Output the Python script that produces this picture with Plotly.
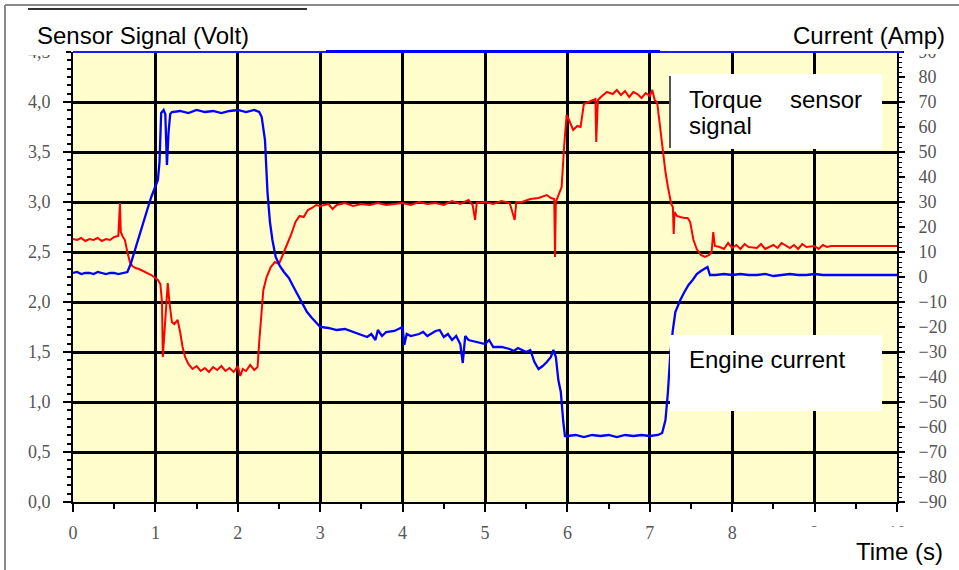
import plotly.graph_objects as go

# ---------------- data ----------------
torque_t = [0.00, 0.05, 0.10, 0.15, 0.20, 0.25, 0.30, 0.35, 0.40, 0.45, 0.50, 0.55, 0.57, 0.58, 0.60,
            0.63, 0.66, 0.69, 0.72, 0.76, 0.80, 0.85, 0.90, 0.95, 1.00, 1.03, 1.06, 1.08, 1.09, 1.11,
            1.13, 1.15, 1.17, 1.20, 1.23, 1.27, 1.30, 1.33, 1.36, 1.40, 1.45, 1.50, 1.55, 1.60, 1.65,
            1.70, 1.75, 1.80, 1.85, 1.90, 1.95, 2.00, 2.03, 2.06, 2.10, 2.15, 2.20, 2.24, 2.26, 2.28,
            2.31, 2.35, 2.40, 2.45, 2.50, 2.55, 2.60, 2.65, 2.70, 2.75, 2.80, 2.85, 2.90, 2.95, 3.00,
            3.10, 3.15, 3.20, 3.30, 3.40, 3.50, 3.60, 3.70, 3.80, 3.90, 4.00, 4.10, 4.20, 4.30, 4.40,
            4.50, 4.60, 4.70, 4.80, 4.85, 4.88, 4.90, 5.00, 5.10, 5.20, 5.30, 5.36, 5.38, 5.45, 5.55,
            5.65, 5.75, 5.80, 5.84, 5.85, 5.86, 5.90, 5.93, 5.96, 5.99, 6.02, 6.07, 6.12, 6.16, 6.20,
            6.25, 6.30, 6.34, 6.35, 6.37, 6.42, 6.48, 6.55, 6.60, 6.65, 6.70, 6.75, 6.80, 6.85, 6.90,
            6.95, 7.00, 7.03, 7.06, 7.09, 7.12, 7.16, 7.19, 7.22, 7.26, 7.28, 7.29, 7.30, 7.33, 7.37,
            7.42, 7.46, 7.49, 7.53, 7.57, 7.62, 7.67, 7.72, 7.75, 7.77, 7.79, 7.85, 7.90, 7.95, 8.00,
            8.05, 8.10, 8.15, 8.20, 8.30, 8.35, 8.40, 8.50, 8.55, 8.60, 8.70, 8.75, 8.80, 8.85, 8.90,
            9.00, 9.05, 9.10, 9.15, 9.20, 10.00]
torque_volt = [2.63, 2.62, 2.64, 2.61, 2.63, 2.62, 2.64, 2.61, 2.63, 2.62, 2.65, 2.66, 2.99, 2.70, 2.66,
               2.62, 2.50, 2.40, 2.36, 2.34, 2.33, 2.31, 2.29, 2.27, 2.24, 2.22, 2.18, 2.00, 1.45, 1.70,
               2.05, 2.19, 2.00, 1.80, 1.78, 1.82, 1.70, 1.55, 1.45, 1.38, 1.33, 1.36, 1.31, 1.34, 1.30,
               1.35, 1.32, 1.36, 1.31, 1.34, 1.30, 1.36, 1.26, 1.33, 1.31, 1.37, 1.32, 1.35, 1.60, 1.85,
               2.12, 2.25, 2.35, 2.40, 2.38, 2.48, 2.58, 2.68, 2.80, 2.86, 2.85, 2.92, 2.94, 2.97, 2.96,
               2.98, 2.93, 2.97, 2.99, 2.96, 2.98, 2.97, 2.99, 2.97, 2.98, 2.99, 2.97, 3.00, 2.98, 2.99,
               2.97, 3.01, 2.98, 3.02, 2.97, 2.82, 2.99, 3.00, 2.98, 3.01, 2.99, 2.82, 3.00, 3.00, 3.03,
               3.04, 3.07, 3.04, 3.03, 2.45, 3.00, 3.08, 3.15, 3.55, 3.87, 3.82, 3.72, 3.76, 3.75, 3.98,
               4.00, 4.02, 4.03, 3.60, 4.02, 4.06, 4.10, 4.08, 4.12, 4.07, 4.11, 4.05, 4.10, 4.08, 4.04,
               4.09, 4.06, 4.12, 4.02, 3.99, 3.78, 3.52, 3.30, 3.15, 2.98, 2.95, 2.68, 2.90, 2.86, 2.85,
               2.84, 2.84, 2.80, 2.62, 2.53, 2.47, 2.45, 2.47, 2.50, 2.70, 2.56, 2.55, 2.53, 2.59, 2.54,
               2.57, 2.53, 2.58, 2.55, 2.54, 2.58, 2.53, 2.57, 2.54, 2.59, 2.54, 2.57, 2.53, 2.58, 2.55,
               2.56, 2.53, 2.57, 2.55, 2.56, 2.56]

current_t = [0.00, 0.05, 0.10, 0.15, 0.20, 0.25, 0.30, 0.35, 0.40, 0.45, 0.50, 0.55, 0.60, 0.66, 0.70,
             0.75, 0.80, 0.85, 0.90, 0.95, 1.00, 1.03, 1.05, 1.07, 1.10, 1.12, 1.14, 1.16, 1.18, 1.20,
             1.30, 1.40, 1.50, 1.60, 1.70, 1.80, 1.90, 2.00, 2.10, 2.20, 2.26, 2.29, 2.33, 2.36, 2.39,
             2.42, 2.46, 2.51, 2.56, 2.62, 2.67, 2.72, 2.78, 2.84, 2.90, 2.96, 3.00, 3.10, 3.20, 3.30,
             3.40, 3.50, 3.57, 3.62, 3.67, 3.70, 3.75, 3.80, 3.90, 4.00, 4.02, 4.05, 4.10, 4.20, 4.25,
             4.30, 4.40, 4.45, 4.50, 4.55, 4.60, 4.65, 4.70, 4.73, 4.76, 4.80, 4.90, 5.00, 5.05, 5.10,
             5.20, 5.30, 5.35, 5.40, 5.45, 5.50, 5.55, 5.60, 5.65, 5.70, 5.75, 5.80, 5.83, 5.86, 5.89,
             5.92, 5.95, 5.97, 6.00, 6.10, 6.20, 6.30, 6.40, 6.50, 6.60, 6.70, 6.80, 6.90, 7.00, 7.10,
             7.15, 7.19, 7.22, 7.25, 7.28, 7.31, 7.34, 7.37, 7.42, 7.47, 7.52, 7.57, 7.62, 7.67, 7.70,
             7.73, 7.80, 7.90, 8.00, 8.10, 8.20, 8.30, 8.40, 8.50, 8.60, 8.70, 8.80, 8.90, 9.00, 9.10,
             9.20, 10.00]
current_amp = [1.6, 2.0, 1.2, 1.6, 1.6, 1.2, 2.0, 1.6, 1.2, 1.6, 1.6, 1.2, 1.6, 2.0, 5.2,
               10.8, 15.6, 21.2, 26.8, 32.0, 36.0, 38.8, 46.0, 65.6, 66.8, 65.2, 44.8, 58.0, 65.2, 66.0,
               66.4, 65.6, 66.8, 66.0, 66.4, 65.6, 66.4, 66.8, 66.0, 66.8, 66.0, 64.0, 54.8, 34.0, 22.0,
               14.8, 8.0, 4.4, 2.0, -0.4, -3.6, -6.8, -10.8, -14.0, -16.4, -18.8, -20.0, -20.4, -21.2, -20.8,
               -22.0, -23.2, -24.0, -22.8, -25.2, -21.2, -23.6, -22.0, -21.6, -20.0, -27.2, -22.8, -23.6, -22.8, -22.0,
               -23.6, -21.6, -21.2, -24.0, -22.8, -25.2, -23.6, -26.8, -34.4, -23.6, -25.2, -26.0, -26.8, -25.2, -28.0,
               -28.0, -28.8, -29.6, -28.4, -29.2, -30.0, -29.2, -34.0, -36.8, -35.6, -34.0, -32.0, -29.2, -32.0, -41.2,
               -46.0, -58.0, -63.6, -63.6, -63.2, -64.0, -63.2, -63.6, -63.2, -64.0, -63.2, -63.6, -63.2, -63.6, -63.2,
               -62.4, -57.2, -46.0, -30.4, -21.2, -14.0, -11.6, -9.2, -6.0, -3.2, -1.2, 1.2, 2.4, 3.2, 4.0,
               0.8, 0.8, 1.2, 0.8, 1.2, 0.8, 0.8, 1.2, 0.4, 0.8, 1.2, 0.8, 0.8, 1.2, 0.8,
               0.8, 0.8]

x_ticks = list(range(0, 11))
left_ticks = [0.0, 0.5, 1.0, 1.5, 2.0, 2.5, 3.0, 3.5, 4.0, 4.5]
right_ticks = list(range(-90, 91, 10))

# ---------------- geometry helpers (pixel -> paper) ----------------
W, H = 959, 570
PL, PR, PT, PB = 73, 897, 52, 502


def px(x):
    return (x - PL) / (PR - PL)


def py(y):
    return (PB - y) / (PB - PT)


fig = go.Figure()
fig.add_trace(go.Scatter(x=current_t, y=current_amp, yaxis="y2", mode="lines",
                         line=dict(color="#0000FF", width=2.3), name="Engine current"))
fig.add_trace(go.Scatter(x=torque_t, y=torque_volt, mode="lines",
                         line=dict(color="#FF0000", width=2), name="Torque sensor signal"))

tickfont = dict(family="Liberation Serif, Times New Roman, serif", size=18, color="#555555")

fig.update_layout(
    width=W, height=H,
    margin=dict(l=PL, r=W - PR, t=PT, b=H - PB, pad=0),
    paper_bgcolor="white",
    plot_bgcolor="#FFFDCC",
    showlegend=False,
    separators=", ",
    xaxis=dict(range=[0, 10], tickvals=x_ticks, showgrid=True, gridcolor="black", gridwidth=3,
               showline=True, linecolor="black", linewidth=2, ticks="outside", ticklen=8,
               tickwidth=2, tickcolor="black", tickfont=tickfont, zeroline=False, automargin=False,
               ticklabelstandoff=5,
               minor=dict(dtick=0.5, ticks="outside", ticklen=5, tickwidth=2, tickcolor="black",
                          showgrid=False)),
    yaxis=dict(range=[0, 4.5], tickvals=left_ticks, tickformat=".1f", showgrid=True,
               gridcolor="black", gridwidth=3, showline=True, linecolor="black", linewidth=2,
               ticks="outside", ticklen=8, tickwidth=2, tickcolor="black", tickfont=tickfont,
               zeroline=False, automargin=False, ticklabelstandoff=9,
               minor=dict(tick0=0, dtick=0.5 / 6, ticks="outside", ticklen=4, tickwidth=2,
                          tickcolor="black", showgrid=False)),
    yaxis2=dict(range=[-90, 90], tickvals=right_ticks, overlaying="y", side="right",
                showgrid=False, showline=True, linecolor="black", linewidth=2, ticks="outside",
                ticklen=6, tickwidth=2, tickcolor="black", tickfont=tickfont, zeroline=False,
                automargin=False, ticklabelstandoff=10,
                minor=dict(tick0=0, dtick=2, ticks="outside", ticklen=3, tickwidth=1,
                           tickcolor="black", showgrid=False)),
)

shapes = []
# outer frame
shapes.append(dict(type="line", xref="paper", yref="paper", x0=px(5), x1=px(959), y0=py(5), y1=py(5),
                   line=dict(color="#8a8a8a", width=2), layer="above"))
shapes.append(dict(type="line", xref="paper", yref="paper", x0=px(5), x1=px(5), y0=py(5), y1=py(570),
                   line=dict(color="#8a8a8a", width=2), layer="above"))
# white title band (cuts top tick labels)
shapes.append(dict(type="rect", xref="paper", yref="paper", x0=px(8), x1=px(959), y0=py(10), y1=py(46),
                   fillcolor="white", line=dict(width=0), layer="above"))
shapes.append(dict(type="rect", xref="paper", yref="paper", x0=px(8), x1=px(66), y0=py(10), y1=py(55),
                   fillcolor="white", line=dict(width=0), layer="above"))
shapes.append(dict(type="rect", xref="paper", yref="paper", x0=px(904), x1=px(959), y0=py(10), y1=py(54),
                   fillcolor="white", line=dict(width=0), layer="above"))
shapes.append(dict(type="line", xref="paper", yref="paper", x0=px(28), x1=px(307), y0=py(9), y1=py(9),
                   line=dict(color="#333333", width=2), layer="above"))
# blue top edge of plot
shapes.append(dict(type="line", xref="paper", yref="paper", x0=0, x1=px(903), y0=1, y1=1,
                   line=dict(color="#1a1aff", width=2), layer="above"))
shapes.append(dict(type="line", xref="paper", yref="paper", x0=px(326), x1=px(660), y0=py(51.5), y1=py(51.5),
                   line=dict(color="#0000ff", width=3), layer="above"))
# label boxes
shapes.append(dict(type="rect", xref="paper", yref="paper", x0=px(670), x1=px(882), y0=py(74), y1=py(149),
                   fillcolor="white", line=dict(width=0), layer="above"))
shapes.append(dict(type="line", xref="paper", yref="paper", x0=px(670), x1=px(670), y0=py(76), y1=py(148),
                   line=dict(color="#555555", width=2), layer="above"))
shapes.append(dict(type="rect", xref="paper", yref="paper", x0=px(670), x1=px(882), y0=py(335), y1=py(411),
                   fillcolor="white", line=dict(width=0), layer="above"))
shapes.append(dict(type="rect", xref="paper", yref="paper", x0=px(810), x1=px(959), y0=py(527), y1=py(570),
                   fillcolor="white", line=dict(width=0), layer="above"))
fig.update_layout(shapes=shapes)

lab = dict(family="Liberation Sans, Arial, sans-serif", size=24, color="black")


def note(text, x, y, xanchor="left"):
    fig.add_annotation(text=text, xref="paper", yref="paper", x=px(x), y=py(y), xanchor=xanchor,
                       yanchor="middle", showarrow=False, font=lab, borderpad=0)


note("Sensor Signal (Volt)", 36, 35)
note("Current (Amp)", 946, 35, xanchor="right")
note("Torque", 688, 99)
note("sensor", 863, 99, xanchor="right")
note("signal", 688, 126)
note("Engine current", 688, 359)
note("Time (s)", 944, 551, xanchor="right")

fig.write_html("out.html")
